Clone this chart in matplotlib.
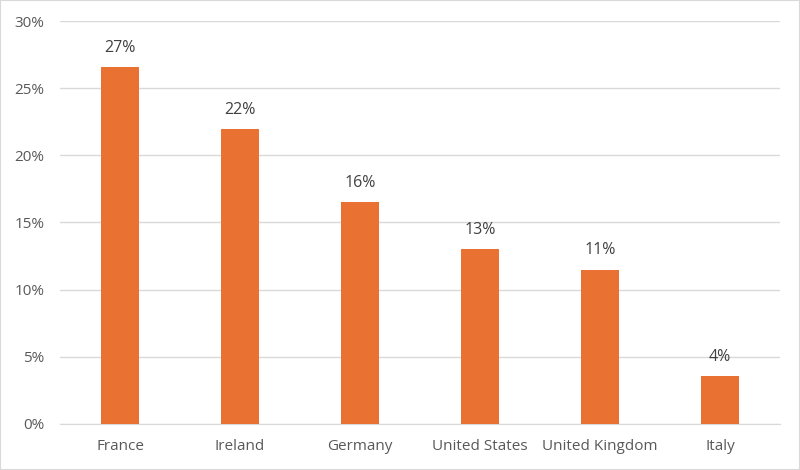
import matplotlib
matplotlib.use("Agg")
import matplotlib.pyplot as plt
from matplotlib.ticker import FuncFormatter
from matplotlib.patches import Rectangle

categories = ["France", "Ireland", "Germany", "United States", "United Kingdom", "Italy"]
values = [26.55, 21.95, 16.5, 13.05, 11.5, 3.6]
labels = ["27%", "22%", "16%", "13%", "11%", "4%"]
yticks = [0, 5, 10, 15, 20, 25, 30]

plt.rcParams['font.family'] = ['Open Sans', 'DejaVu Sans']

fig = plt.figure(figsize=(8, 4.7), dpi=100)
ax = fig.add_axes([0.075, 0.0979, 0.9, 0.8574])

x = list(range(len(categories)))
bars = ax.bar(x, values, width=0.31, color="#E97132", zorder=3)
for xi, v, lab in zip(x, values, labels):
    ax.annotate(lab, (xi, v), xytext=(0, 8), textcoords="offset points",
                ha="center", va="bottom", fontsize=11.5, color="#404040")

ax.set_xlim(-0.5, len(categories) - 0.5)
ax.set_ylim(0, 30)
ax.set_yticks(yticks)
ax.yaxis.set_major_formatter(FuncFormatter(lambda v, p: f"{int(v)}%"))
ax.set_xticks(x)
ax.set_xticklabels(categories)
ax.grid(axis="y", color="#D9D9D9", linewidth=1, zorder=0)
for s in ax.spines.values():
    s.set_visible(False)
ax.spines["bottom"].set_visible(True)
ax.spines["bottom"].set_color("#D9D9D9")
ax.tick_params(axis="both", length=0, labelsize=11, labelcolor="#595959")
ax.tick_params(axis="x", pad=11)
ax.tick_params(axis="y", pad=11)

fig.patches.append(Rectangle((0, 0), 1, 1, transform=fig.transFigure, fill=False,
                             edgecolor="#D9D9D9", linewidth=1.5))
fig.savefig("out.png", dpi=100)
